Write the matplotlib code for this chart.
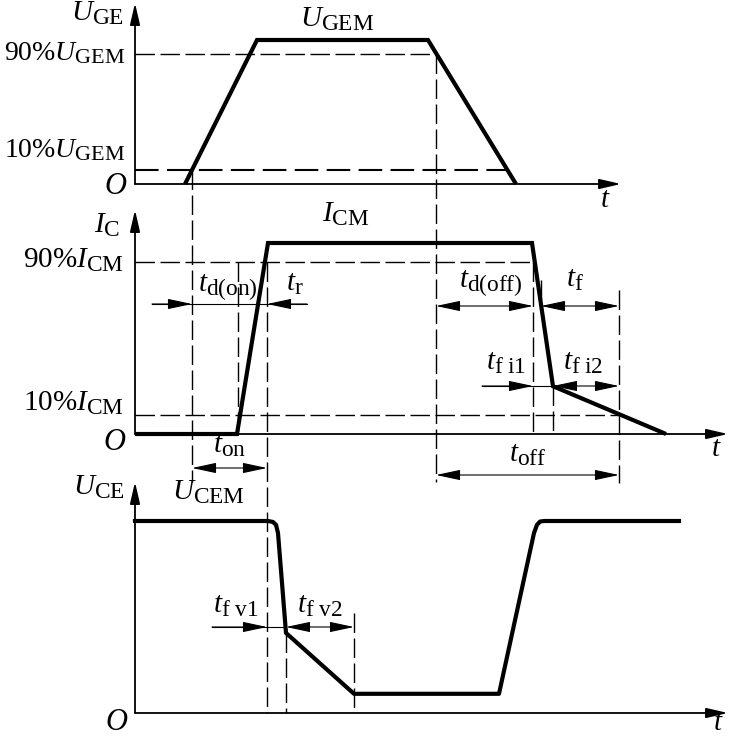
import matplotlib
matplotlib.use("Agg")
import matplotlib.pyplot as plt
import matplotlib._mathtext as mt
import numpy as np

plt.rcParams.update({'font.family': 'Liberation Serif'})
plt.rcParams.update({'mathtext.fontset': 'custom'})
plt.rcParams.update({'mathtext.rm': 'Liberation Serif'})
plt.rcParams.update({'mathtext.it': 'Liberation Serif:italic'})
plt.rcParams.update({'font.size': 21})
plt.rcParams.update({'lines.scale_dashes': False})
# subscripts in the book figure are a bit larger than mathtext default
mt.SHRINK_FACTOR = 0.8

###########################################################################
# waveforms: time in arbitrary units, values normalised to the max level

u_ge_t = [50, 122, 293, 381]
u_ge_v = [0, 1, 1, 0]

i_c_t = [0, 102, 133, 397, 418, 531]
i_c_v = [0, 0, 1, 1, 0.25, 0]

u_ce_t = [0, 133, 138, 141, 143, 151, 219, 364, 399, 402, 405, 409, 544]
u_ce_v = [1, 1, 0.995, 0.98, 0.9375, 0.417, 0.1, 0.1, 0.9375, 0.98, 0.997, 1, 1]

# characteristic instants
t_ge10_on = 57
t_ic10_on = 103
t_ic90_on = 132
t_ge90_off = 301
t_ic90_off = 398
t_f_start = 406
t_ic_knee = 418
t_ic10_off = 484
t_uce_knee = 151
t_uce_end = 219

# panel layout (pixel row of zero level, pixels per unit)
p1 = (184, 144)
p2 = (434, 191)
p3 = (713, 192)

###########################################################################

def py(panel, v):
    return panel[0] - panel[1] * np.asarray(v, dtype=float)


fig = plt.figure(figsize=(7.32, 7.38), dpi=100)
ax = fig.add_axes([0, 0, 1, 1])
ax.set_xlim(-135, 597)
ax.set_ylim(738, 0)
ax.axis('off')

wave_kw = dict(color='black', lw=3.0, solid_joinstyle='miter', solid_capstyle='butt', zorder=5)
dash_kw = dict(color='black', lw=1.0, dashes=(14, 4), zorder=2)
dim_kw = dict(color='black', lw=0.8, zorder=3)
one = '-|>,head_length=1.5,head_width=0.32'
two = '<|-|>,head_length=1.5,head_width=0.32'


def axis_arrow(x0, y0, x1, y1):
    ax.annotate('', xy=(x1, y1), xytext=(x0, y0),
                arrowprops=dict(arrowstyle='-|>,head_length=1.3,head_width=0.3',
                                color='black', lw=1.3, shrinkA=0, shrinkB=0,
                                mutation_scale=10))


def dim(x0, x1, y, style):
    ax.annotate('', xy=(x1, y), xytext=(x0, y),
                arrowprops=dict(arrowstyle=style, color='black', lw=0.8,
                                shrinkA=0, shrinkB=0, mutation_scale=10))


def vdash(t, y0, y1):
    ax.plot([t, t], [y0, y1], **dash_kw)


# axes
for panel, ytop, tend in [(p1, 3, 486), (p2, 210, 593), (p3, 482, 593)]:
    axis_arrow(0, panel[0], 0, ytop)
    axis_arrow(0, panel[0], tend, panel[0])

# waveforms
ax.plot(u_ge_t, py(p1, u_ge_v), **wave_kw)
ax.plot(i_c_t, py(p2, i_c_v), **wave_kw)
ax.plot(u_ce_t, py(p3, u_ce_v), solid_joinstyle='round', color='black', lw=3.0, zorder=5)

# level lines
ax.plot([0, t_ge90_off], py(p1, [0.9, 0.9]), **dash_kw)
ax.plot([0, 371], py(p1, [0.1, 0.1]), color='black', lw=1.5, dashes=(17, 6), zorder=2)
ax.plot([0, t_ic90_off], py(p2, [0.9, 0.9]), **dash_kw)
ax.plot([0, t_ic10_off], py(p2, [0.1, 0.1]), **dash_kw)

# vertical guide lines
vdash(t_ge10_on, py(p1, 0.1), 482)
vdash(t_ic10_on, py(p2, 0.9), p2[0])
vdash(t_ic90_on, py(p2, 0.9), p3[0])
vdash(t_ge90_off, py(p1, 0.9), 482)
vdash(t_ic90_off, py(p2, 0.9), p2[0])
vdash(t_f_start, 280, 310)
vdash(t_ic_knee, py(p2, 0.25), p2[0])
vdash(t_ic10_off, 290, 483)
vdash(t_uce_knee, py(p3, 0.417), p3[0])
vdash(t_uce_end, 613, p3[0])

# dimension arrows
ax.plot([17, 172], [304, 304], **dim_kw)
dim(17, t_ge10_on, 304, one)
dim(172, t_ic90_on, 304, one)
dim(t_ge10_on, t_ic90_on, 468, two)
dim(t_ge90_off, t_ic90_off, 306, two)
dim(t_f_start, t_ic10_off, 306, two)
ax.plot([347, t_ic_knee], [386, 386], **dim_kw)
dim(347, t_ic90_off, 386, one)
dim(t_ic_knee, t_ic10_off, 386, two)
dim(t_ge90_off, t_ic10_off, 475, two)
ax.plot([77, t_uce_knee], [627, 627], **dim_kw)
dim(77, t_ic90_on, 627, one)
dim(t_uce_knee, t_uce_end, 627, two)

# labels
txt = dict(color='black', va='baseline')
ax.text(-11, 21, r'$U_{\mathrm{GE}}$', ha='right', **txt)
ax.text(165, 27, r'$U_{\mathrm{GEM}}$', ha='left', **txt)
ax.text(-9, 60, r'90%$U_{\mathrm{GEM}}$', ha='right', fontsize=20, **txt)
ax.text(-9, 157, r'10%$U_{\mathrm{GEM}}$', ha='right', fontsize=20, **txt)
ax.text(-19, 186, r'$O$', ha='center', va='center', fontsize=22)
ax.text(470, 200, r'$t$', ha='center', va='center')

ax.text(-15, 233, r'$I_{\mathrm{C}}$', ha='right', **txt)
ax.text(187, 222, r'$I_{\mathrm{CM}}$', ha='left', **txt)
ax.text(-11, 268, r'90%$I_{\mathrm{CM}}$', ha='right', **txt)
ax.text(-11, 411, r'10%$I_{\mathrm{CM}}$', ha='right', **txt)
ax.text(-20, 442, r'$O$', ha='center', va='center', fontsize=22)
ax.text(581, 449, r'$t$', ha='center', va='center')
ax.text(63, 291, r'$t_{\mathrm{d(on)}}$', ha='left', **txt)
ax.text(151, 291, r'$t_{\mathrm{r}}$', ha='left', **txt)
ax.text(78, 453, r'$t_{\mathrm{on}}$', ha='left', **txt)
ax.text(324, 287, r'$t_{\mathrm{d(off)}}$', ha='left', **txt)
ax.text(431, 287, r'$t_{\mathrm{f}}$', ha='left', **txt)
ax.text(351, 370, r'$t_{\mathrm{f\ i1}}$', ha='left', **txt)
ax.text(428, 370, r'$t_{\mathrm{f\ i2}}$', ha='left', **txt)
ax.text(374, 462, r'$t_{\mathrm{off}}$', ha='left', **txt)

ax.text(-10, 495, r'$U_{\mathrm{CE}}$', ha='right', **txt)
ax.text(37, 500, r'$U_{\mathrm{CEM}}$', ha='left', **txt)
ax.text(78, 613, r'$t_{\mathrm{f\ v1}}$', ha='left', **txt)
ax.text(162, 613, r'$t_{\mathrm{f\ v2}}$', ha='left', **txt)
ax.text(-18, 722, r'$O$', ha='center', va='center', fontsize=22)
ax.text(583, 723, r'$t$', ha='center', va='center')

fig.savefig('out.png', dpi=100)
